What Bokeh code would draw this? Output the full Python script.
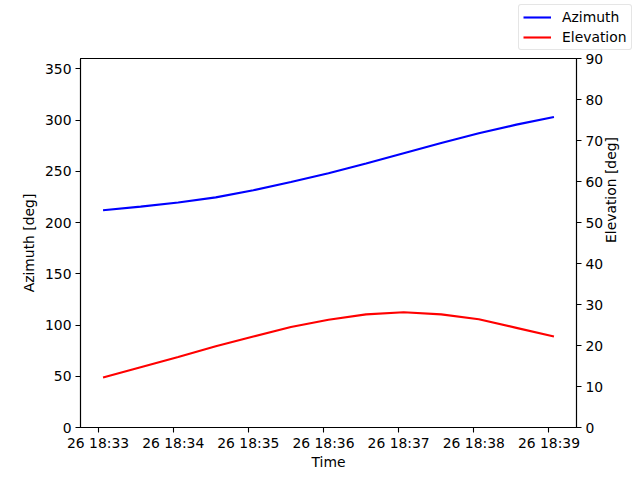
import math
from datetime import datetime
from bokeh.plotting import figure
from bokeh.layouts import column
from bokeh.models import (Range1d, LinearAxis, FixedTicker, DatetimeTickFormatter,
                          Legend, LegendItem, ColumnDataSource)
from bokeh.embed import file_html
from bokeh.resources import INLINE

# ---- data ----
times = ["2024-03-26 18:33:04", "2024-03-26 18:33:34", "2024-03-26 18:34:04",
         "2024-03-26 18:34:34", "2024-03-26 18:35:04", "2024-03-26 18:35:34",
         "2024-03-26 18:36:04", "2024-03-26 18:36:34", "2024-03-26 18:37:04",
         "2024-03-26 18:37:34", "2024-03-26 18:38:04", "2024-03-26 18:38:34",
         "2024-03-26 18:39:04"]
azimuth = [212.0, 215.5, 219.5, 224.5, 231.5, 239.5, 248.0, 257.5, 267.5,
           277.5, 287.0, 295.5, 303.0]
elevation = [12.2, 14.7, 17.2, 19.8, 22.2, 24.5, 26.3, 27.6, 28.1, 27.6,
             26.4, 24.3, 22.2]
x_ticks = ["2024-03-26 18:33:00", "2024-03-26 18:34:00", "2024-03-26 18:35:00",
           "2024-03-26 18:36:00", "2024-03-26 18:37:00", "2024-03-26 18:38:00",
           "2024-03-26 18:39:00"]
x_limits = ["2024-03-26 18:32:46", "2024-03-26 18:39:22"]
az_ticks = [0, 50, 100, 150, 200, 250, 300, 350]
el_ticks = [0, 10, 20, 30, 40, 50, 60, 70, 80, 90]
az_range = (0, 360)
el_range = (0, 90)
series_names = ["Azimuth", "Elevation"]
series_colors = ["blue", "red"]

FMT = "%Y-%m-%d %H:%M:%S"
tx = [datetime.strptime(t, FMT) for t in times]
def ms(s):
    d = datetime.strptime(s, FMT)
    return (d - datetime(1970, 1, 1)).total_seconds() * 1000.0

FONT = "DejaVu Sans"
FS = "13.9px"

# ---- main plot ----
p = figure(width=640, height=429, output_backend="svg", toolbar_location=None,
           x_axis_type="datetime",
           x_range=Range1d(ms(x_limits[0]), ms(x_limits[1])),
           y_range=Range1d(*az_range),
           min_border_left=80, min_border_right=64, min_border_top=7,
           min_border_bottom=53)
p.extra_y_ranges = {"el": Range1d(*el_range)}
p.xgrid.visible = False
p.ygrid.visible = False
p.outline_line_color = "black"
p.outline_line_width = 1.1
p.background_fill_color = "white"
p.border_fill_color = "white"
if "frame_align" in p.properties():
    p.frame_align = False

src = ColumnDataSource(dict(t=tx, az=azimuth, el=elevation))
p.line("t", "az", source=src, line_color=series_colors[0], line_width=2.1)
p.line("t", "el", source=src, line_color=series_colors[1], line_width=2.1,
       y_range_name="el")

right = LinearAxis(y_range_name="el")
p.add_layout(right, "right")

def style(ax):
    ax.axis_line_color = "black"
    ax.axis_line_width = 1.1
    ax.major_tick_line_color = "black"
    ax.major_tick_line_width = 1.1
    ax.major_tick_out = 5
    ax.major_tick_in = 0
    ax.minor_tick_line_color = None
    ax.major_label_text_font = FONT
    ax.major_label_text_font_size = FS
    ax.major_label_text_color = "black"
    ax.major_label_text_line_height = 1.0
    ax.axis_label_text_font = FONT
    ax.axis_label_text_font_size = FS
    ax.axis_label_text_font_style = "normal"
    ax.axis_label_text_color = "black"
    ax.major_label_standoff = 4

xa = p.xaxis[0]
ya = p.yaxis[0]
style(xa); style(ya); style(right)
xa.major_label_standoff = 2
xa.axis_label_standoff = 0
xa.ticker = FixedTicker(ticks=[ms(t) for t in x_ticks])
f = "%d %H:%M"
xa.formatter = DatetimeTickFormatter(seconds=f, minsec=f, minutes=f, hourmin=f,
                                     hours=f, days=f, months=f, years=f)
xa.axis_label = "Time"
ya.ticker = FixedTicker(ticks=az_ticks)
ya.axis_label = "Azimuth [deg]"
right.ticker = FixedTicker(ticks=el_ticks)
right.axis_label = "Elevation [deg]"
if "axis_label_orientation" in right.properties():
    right.axis_label_orientation = math.pi / 2

# ---- legend strip above the plot ----
lg = figure(width=640, height=51, output_backend="svg", toolbar_location=None,
            x_range=Range1d(0, 1), y_range=Range1d(0, 1),
            x_axis_location=None, y_axis_location=None,
            min_border_left=0, min_border_right=0, min_border_top=0,
            min_border_bottom=0)
if "frame_align" in lg.properties():
    lg.frame_align = False
lg.xgrid.visible = False
lg.ygrid.visible = False
lg.outline_line_color = None
lg.background_fill_color = "white"
lg.border_fill_color = "white"
items = []
for name, col in zip(series_names, series_colors):
    r = lg.line(x=[0.0, 0.0], y=[-5.0, -5.0], line_color=col, line_width=2.1)
    items.append(LegendItem(label=name, renderers=[r]))

legend = Legend(items=items, location=(518, 1), orientation="vertical")
legend.label_text_font = FONT
legend.label_text_font_size = FS
legend.label_text_color = "black"
legend.glyph_width = 28
legend.glyph_height = 16
legend.label_height = 16
legend.padding = 4
legend.spacing = 4
legend.margin = 0
legend.label_standoff = 11
legend.border_line_color = "#cccccc"
legend.border_line_width = 1
legend.background_fill_alpha = 0.8
if "border_radius" in legend.properties():
    legend.border_radius = 3
lg.add_layout(legend, "center")

layout = column(lg, p, spacing=0)
open("out.html", "w").write(file_html(layout, INLINE))
